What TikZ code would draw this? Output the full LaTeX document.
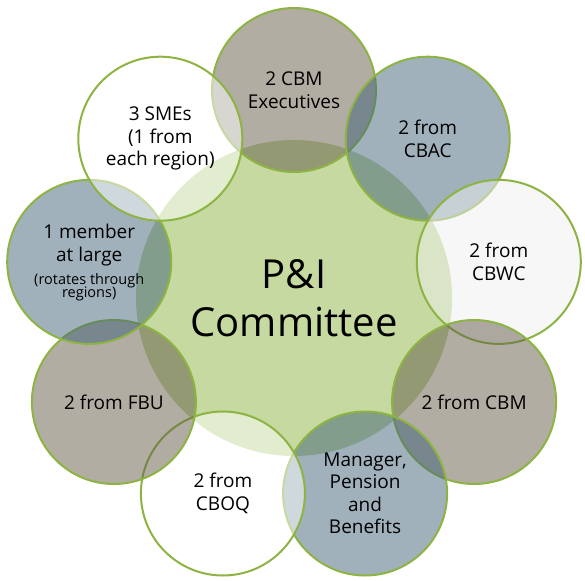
\documentclass[tikz,border=0pt]{standalone}
\usepackage{fontspec}
\setmainfont{Open Sans}
\definecolor{cgreen}{RGB}{197,217,160}
\definecolor{edge}{RGB}{141,180,66}
\definecolor{taupe}{RGB}{99,91,71}
\definecolor{slate}{RGB}{65,99,119}
\definecolor{pale}{RGB}{239,239,239}
\tikzset{
 hub/.style={circle, fill=cgreen, minimum size=316pt, inner sep=0pt},
 ring/.style={circle, draw=edge, line width=2pt, fill opacity=0.5, minimum size=164pt, inner sep=0pt},
 lbl/.style={align=center, font=\fontsize{19}{22.5}\selectfont, text=black, inner sep=0pt},
 small/.style={font=\fontsize{14.5}{15}\selectfont, text=black, anchor=base, inner sep=0pt},
 big/.style={align=center, font=\fontsize{40}{48}\selectfont, text=black, inner sep=0pt}
}
\begin{document}
\begin{tikzpicture}[x=1pt,y=-1pt]
\useasboundingbox (0,0) rectangle (585,580);
\node[hub] (hub) at (294,298) {};
\node[ring, fill=taupe] (c1) at (294,90) {};
\node[ring, fill=slate] (c2) at (427.7,138.7) {};
\node[ring, fill=pale] (c3) at (498.8,261.9) {};
\node[ring, fill=taupe] (c4) at (474.1,402) {};
\node[ring, fill=slate] (c5) at (365.1,493.5) {};
\node[ring, fill=white] (c6) at (222.9,493.5) {};
\node[ring, fill=taupe] (c7) at (113.9,402) {};
\node[ring, fill=slate] (c8) at (89.2,261.9) {};
\node[ring, fill=white] (c9) at (160.3,138.7) {};
\node[big] (t0) at (hub) {P\&I\\Committee};
\node[lbl] (t1) at (c1) {2 CBM\\Executives};
\node[lbl] (t2) at (c2) {2 from\\CBAC};
\node[lbl] (t3) at (c3) {2 from\\CBWC};
\node[lbl] (t4) at (c4) {2 from CBM};
\node[lbl] (t5) at (c5) {Manager,\\Pension\\and\\Benefits};
\node[lbl] (t6) at (c6) {2 from\\CBOQ};
\node[lbl] (t7) at (c7) {2 from FBU};
\node[lbl, anchor=base] (t8a) at (89.2,238) {1 member};
\node[lbl, anchor=base] (t8b) at (89.2,261) {at large};
\node[small] (t8c) at (89.2,284) {(rotates through};
\node[small] (t8d) at (89.2,297) {regions)};
\node[lbl] (t9) at (c9) {3 SMEs\\(1 from\\each region)};
\end{tikzpicture}
\end{document}
